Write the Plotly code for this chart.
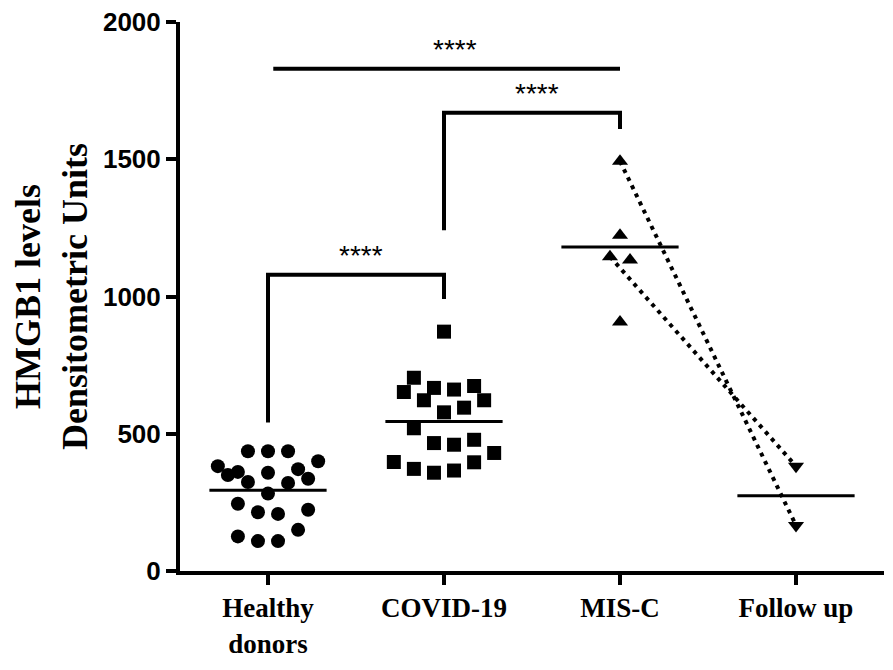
import numpy as np
import plotly.graph_objects as go

# groups on the x axis
categories = ["Healthy<br>donors", "COVID-19", "MIS-C", "Follow up"]

# HMGB1 densitometric units
healthy = [436, 436, 436, 400, 382, 371, 361, 358, 350, 336, 324,
           321, 282, 245, 223, 214, 208, 150, 126, 109, 109]
healthy_col = [-2, 0, 2, 5, -5, 3, -3, 0, -4, 4, -2,
               2, 0, -3, 4, -1, 1, 3, -3, -1, 1]

covid = [872, 704, 652, 667, 661, 674, 622, 622, 578, 595,
         520, 466, 460, 478, 430, 397, 372, 358, 366, 396]
covid_col = [0, -3, -4, -1, 1, 3, -2, 4, 0, 2,
             -3, -1, 1, 3, 5, -5, -3, -1, 1, 3]

misc = [1493, 1223, 1145, 1133, 907]
misc_col = [0, 0, -1, 1, 0]

follow_up = [382, 166]
follow_col = [0, 0]

# paired MIS-C -> follow up (index in misc, index in follow_up)
pairs = [(0, 1), (2, 0)]

# significance brackets: (left group, right group, top level, left foot, right foot)
brackets = [
    (0, 1, 1079, 541, 991),
    (1, 2, 1669, 1241, 1610),
]
top_line = (0.03, 2.0, 1830)
star_text = "****"

step = 0.057   # jitter spacing, category units
half = 0.333   # half width of mean line

fig = go.Figure()

groups = [
    (healthy, healthy_col, 0, "circle"),
    (covid, covid_col, 1, "square"),
    (misc, misc_col, 2, "triangle-up"),
    (follow_up, follow_col, 3, "triangle-down"),
]

xs = {}
for vals, cols, pos, sym in groups:
    x = [pos + c * step for c in cols]
    xs[pos] = x
    fig.add_trace(go.Scatter(
        x=x, y=vals, mode="markers", cliponaxis=False,
        marker=dict(symbol=sym, size=14, color="black", line=dict(width=0)),
    ))
    m = float(np.mean(vals))
    fig.add_trace(go.Scatter(
        x=[pos - half, pos + half], y=[m, m], mode="lines",
        line=dict(color="black", width=3),
    ))

# dotted before/after lines
for i, j in pairs:
    fig.add_trace(go.Scatter(
        x=[xs[2][i], xs[3][j]], y=[misc[i], follow_up[j]], mode="lines",
        line=dict(color="black", width=4, dash="4px,5px"),
    ))

star_font = dict(family="Liberation Sans", size=28, color="black")

# brackets
for a, b, lvl, fa, fb in brackets:
    fig.add_trace(go.Scatter(
        x=[a, a, b, b], y=[fa, lvl, lvl, fb], mode="lines",
        line=dict(color="black", width=4),
    ))
    fig.add_annotation(x=(a + b) / 2 + 0.03, y=lvl, text=star_text, showarrow=False,
                       yanchor="bottom", yshift=2, font=star_font)

fig.add_trace(go.Scatter(
    x=[top_line[0], top_line[1]], y=[top_line[2], top_line[2]], mode="lines",
    line=dict(color="black", width=4),
))
fig.add_annotation(x=(top_line[0] + top_line[1]) / 2 + 0.05, y=top_line[2], text=star_text,
                   showarrow=False, yanchor="bottom", yshift=2, font=star_font)

# page body adds an 8px margin, so the figure is a bit smaller than the window
fig.update_layout(
    width=885, height=662,
    margin=dict(l=172, r=9, t=14, b=99),
    paper_bgcolor="white", plot_bgcolor="white",
    showlegend=False,
    xaxis=dict(
        range=[-0.5, 3.5], tickvals=[0, 1, 2, 3], ticktext=categories,
        showline=True, linewidth=4, linecolor="black",
        ticks="outside", ticklen=10, tickwidth=4, tickcolor="black",
        showgrid=False, zeroline=False, automargin=False,
        tickfont=dict(family="Liberation Serif", size=27, color="black", weight="bold"),
    ),
    yaxis=dict(
        range=[0, 2000], tickvals=[0, 500, 1000, 1500, 2000],
        showline=True, linewidth=4, linecolor="black",
        ticks="outside", ticklen=10, tickwidth=4, tickcolor="black",
        showgrid=False, zeroline=False, automargin=False,
        ticklabeloverflow="allow",
        tickfont=dict(family="Liberation Sans", size=26, color="black", weight="bold"),
        title=dict(text="HMGB1 levels<br>Densitometric Units", standoff=15,
                   font=dict(family="Liberation Serif", size=36, color="black", weight="bold")),
    ),
)

fig.write_html("out.html")
